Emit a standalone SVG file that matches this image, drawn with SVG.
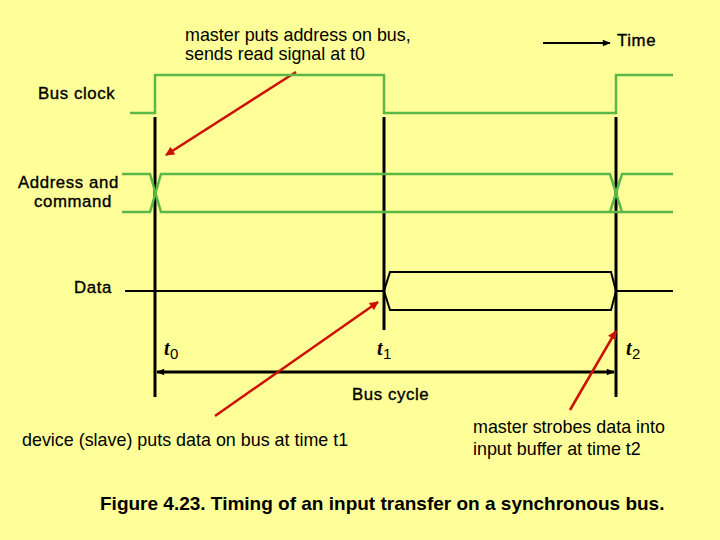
<svg xmlns="http://www.w3.org/2000/svg" width="720" height="540" viewBox="0 0 720 540">
<style>
.bg{fill:#FFFF99}
.sig{fill:none;stroke:#5BB848;stroke-width:2.5}
.blk{fill:none;stroke:#000;stroke-width:3}
.thin{fill:none;stroke:#000;stroke-width:2}
.red{fill:none;stroke:#CC1100;stroke-width:2.5}
.t{font-family:"Liberation Sans",Arial,sans-serif;font-size:17.9px;fill:#000}
.lb{font-family:"Liberation Sans",Arial,sans-serif;font-size:16.8px;fill:#000;stroke:#000;stroke-width:0.35;letter-spacing:0.6px}
.cap{font-family:"Liberation Sans",Arial,sans-serif;font-size:19px;font-weight:bold;fill:#000}
.ti{font-family:"Liberation Serif","Times New Roman",serif;font-size:20px;font-style:italic;font-weight:bold;fill:#000}
.sub{font-family:"Liberation Sans",Arial,sans-serif;font-size:15px;fill:#000}
</style>
<defs>
<marker id="ah" viewBox="0 0 10 10" refX="9" refY="5" markerWidth="12" markerHeight="8" markerUnits="userSpaceOnUse" orient="auto-start-reverse">
<path d="M0,1 L10,5 L0,9 Z" fill="#000"/>
</marker>
<marker id="ahr" viewBox="0 0 10 10" refX="9" refY="5" markerWidth="12" markerHeight="9" markerUnits="userSpaceOnUse" orient="auto">
<path d="M0,0 L10,5 L0,10 Z" fill="#CC1100"/>
</marker>
</defs>
<rect class="bg" x="0" y="0" width="720" height="540"/>

<g id="connectors">
<line class="blk" x1="155" y1="117" x2="155" y2="397"/>
<line class="blk" x1="384" y1="117" x2="384" y2="330"/>
<line class="blk" x1="616" y1="117" x2="616" y2="397"/>
<line class="blk" x1="157" y1="372" x2="614" y2="372" marker-start="url(#ah)" marker-end="url(#ah)"/>
<line class="thin" x1="543" y1="43" x2="610" y2="43" marker-end="url(#ah)"/>
<line class="red" x1="296" y1="72" x2="166" y2="155" marker-end="url(#ahr)"/>
<line class="red" x1="215" y1="416" x2="378" y2="302" marker-end="url(#ahr)"/>
<line class="red" x1="570" y1="410" x2="616" y2="331" marker-end="url(#ahr)"/>
</g>

<g id="bus-clock">
<polyline class="sig" points="130,113 155,113 155,75 384,75 384,113 616,113 616,75 673,75"/>
<text class="lb" x="38" y="99">Bus clock</text>
</g>

<g id="address-command">
<polyline class="sig" points="122,174 150,174 161,212 673,212"/>
<polyline class="sig" points="122,212 150,212 161,174 610,174 622,212"/>
<polyline class="sig" points="610,212 622,174 673,174"/>
<text class="lb" x="18" y="188">Address and</text>
<text class="lb" x="34" y="207">command</text>
</g>

<g id="data">
<line class="thin" x1="125" y1="291" x2="384" y2="291"/>
<polygon class="thin" points="384,291 390,272 611,272 616,291 611,310 390,310"/>
<line class="thin" x1="616" y1="291" x2="673" y2="291"/>
<text class="lb" x="74" y="293">Data</text>
</g>

<g id="time-labels">
<text class="ti" x="164" y="355">t</text><text class="sub" x="170" y="359">0</text>
<text class="ti" x="377" y="355">t</text><text class="sub" x="383" y="359">1</text>
<text class="ti" x="626" y="355">t</text><text class="sub" x="632" y="359">2</text>
<text class="lb" x="352" y="400">Bus cycle</text>
<text class="lb" x="617" y="46">Time</text>
</g>

<g id="annotations">
<text class="t" x="185" y="41">master puts address on bus,</text>
<text class="t" x="185" y="60">sends read signal at t0</text>
<text class="t" x="22" y="446">device (slave) puts data on bus at time t1</text>
<text class="t" x="473" y="433">master strobes data into</text>
<text class="t" x="473" y="455">input buffer at time t2</text>
</g>

<g id="caption">
<text class="cap" x="100" y="510">Figure 4.23. Timing of an input transfer on a synchronous bus.</text>
</g>
</svg>
